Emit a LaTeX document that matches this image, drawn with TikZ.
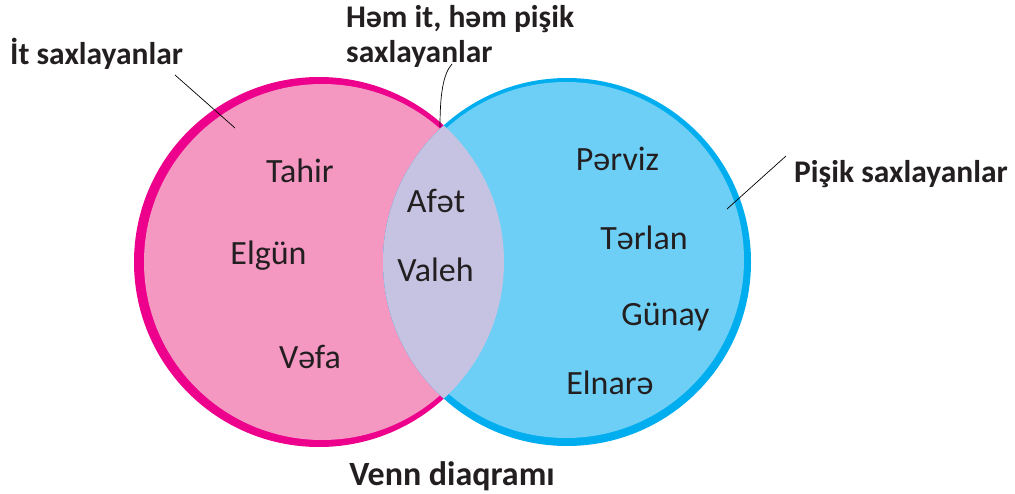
\documentclass[tikz,border=0pt]{standalone}
\usepackage{fontspec}
\setmainfont{Carlito}
\definecolor{pinkfill}{HTML}{F498C2}
\definecolor{pinkedge}{HTML}{EC008C}
\definecolor{bluefill}{HTML}{6DCFF6}
\definecolor{blueedge}{HTML}{00AEEF}
\definecolor{lensfill}{HTML}{C6C3E2}
\definecolor{txt}{HTML}{231F20}
\tikzset{
  person/.style={font=\fontsize{34}{40}\selectfont, text=txt, inner sep=0pt, anchor=base},
  heading/.style={font=\bfseries\fontsize{31.5}{37}\selectfont, text=txt, inner sep=0pt, anchor=base west},
  leader/.style={draw=black, line width=0.7pt}
}
\begin{document}
\begin{tikzpicture}[x=1pt,y=-1pt]
\useasboundingbox[fill=white] (0,0) rectangle (1015,494);
% left circle
\fill[pinkedge] (319,262) circle[radius=185pt];
\fill[pinkfill] (322,262) circle[radius=178pt];
% right circle
\fill[blueedge] (567,262) circle[radius=184pt];
\fill[bluefill] (566,260) circle[radius=178pt];
% lens
\begin{scope}
  \clip (319,262) circle[radius=185pt];
  \fill[lensfill] (567,262) circle[radius=184pt];
\end{scope}
% names
\node[person] (tahir) at (300,183) {Tahir};
\node[person] (elgun) at (268.5,265) {Elgün};
\node[person] (vefa) at (310,368) {Vəfa};
\node[person] (afet) at (436,213) {Afət};
\node[person] (valeh) at (435.5,282) {Valeh};
\node[person] (perviz) at (617.5,171) {Pərviz};
\node[person] (terlan) at (644,250) {Tərlan};
\node[person] (gunay) at (665.5,326) {Günay};
\node[person] (elnare) at (610,395) {Elnarə};
% headings
\node[heading] (itlbl) at (10,65) {İt saxlayanlar};
\node[heading] (bothlbl1) at (346,28) {Həm it, həm pişik};
\node[heading] (bothlbl2) at (346,63) {saxlayanlar};
\node[heading] (catlbl) at (794,183) {Pişik saxlayanlar};
\node[font=\bfseries\fontsize{34}{40}\selectfont, text=txt, inner sep=0pt, anchor=base] (title) at (452,485) {Venn diaqramı};
% leader lines
\coordinate (itend) at (235,128);
\coordinate (itstart) at (175,75);
\coordinate (bothstart) at (452,64);
\coordinate (bothend) at (440,127);
\coordinate (catstart) at (786,156);
\coordinate (catend) at (727,209);
\draw[leader] (itstart) -- (itend);
\draw[leader] (bothstart) .. controls (443,74) and (440,95) .. (bothend);
\draw[leader] (catstart) -- (catend);
\end{tikzpicture}
\end{document}
